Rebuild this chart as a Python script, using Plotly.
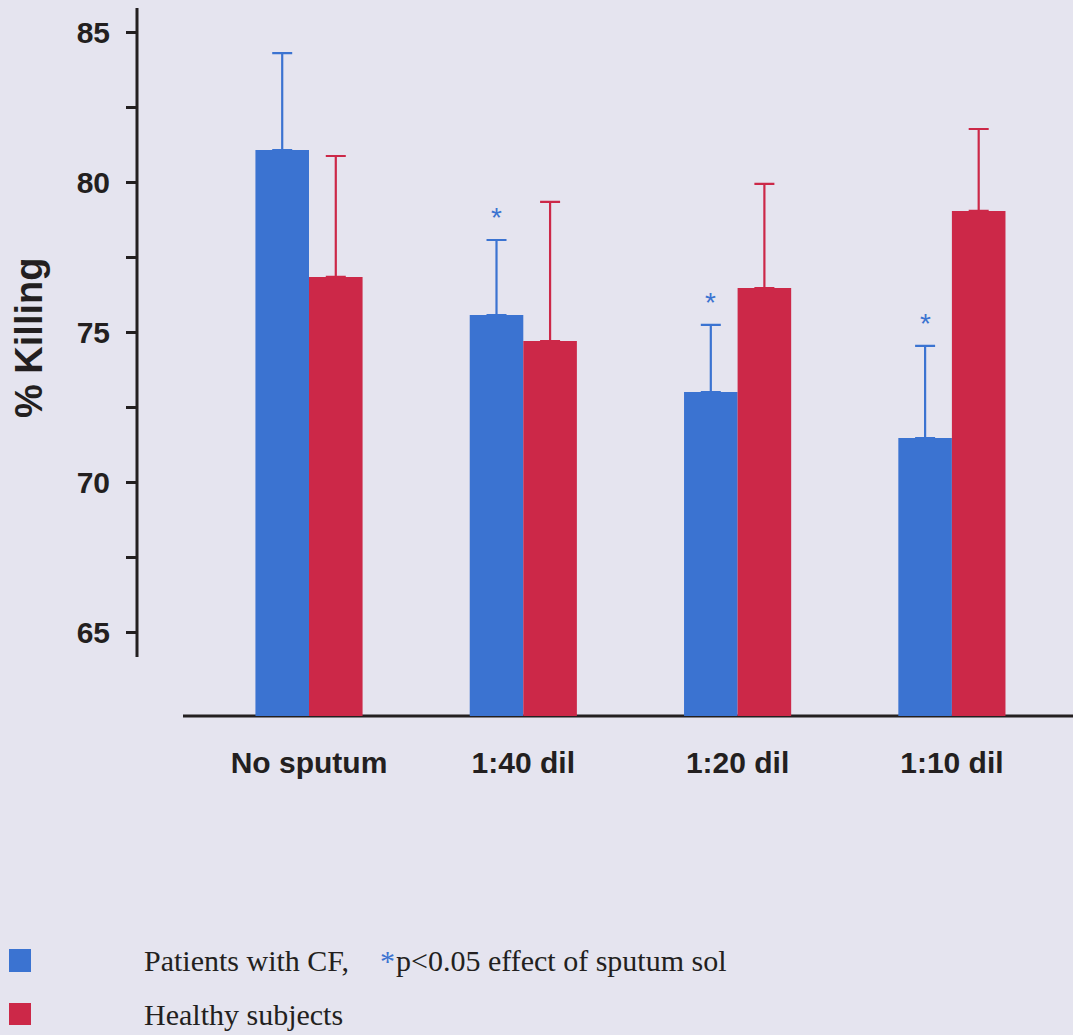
import plotly.graph_objects as go

# ---- data ----
categories = ["No sputum", "1:40 dil", "1:20 dil", "1:10 dil"]
cf_mean = [81.1, 75.6, 73.03, 71.5]
cf_err = [3.23, 2.5, 2.24, 3.07]
healthy_mean = [76.87, 74.73, 76.5, 79.07]
healthy_err = [4.03, 4.64, 3.47, 2.73]
cf_significant = [False, True, True, True]
series_names = ["Patients with CF,", "Healthy subjects"]
sig_note = "p&lt;0.05 effect of sputum sol"
y_tickvals = [65, 67.5, 70, 72.5, 75, 77.5, 80, 82.5, 85]
y_ticktext = ["65", "", "70", "", "75", "", "80", "", "85"]

# ---- styles ----
W, H = 1073, 1035
L, R, T, B = 137, 0, 8, 319
PW, PH = W - L - R, H - T - B
BG = "#e5e4ef"
BLUE = "#3b73d1"
RED = "#cc2848"
INK = "#231f20"
SANS = "Liberation Sans, Arial, sans-serif"
SERIF = "Liberation Serif, Times New Roman, serif"

def px_x(px):
    return (px - L) / PW

def px_y(py):
    return (H - B - py) / PH

xs = list(range(len(categories)))

fig = go.Figure()
fig.add_trace(go.Bar(
    x=xs, y=cf_mean, name=series_names[0], marker=dict(color=BLUE, line=dict(width=0)),
    error_y=dict(type="data", symmetric=False, array=cf_err,
                 arrayminus=[0] * len(cf_err), color=BLUE, thickness=2.2, width=10),
))
fig.add_trace(go.Bar(
    x=xs, y=healthy_mean, name=series_names[1], marker=dict(color=RED, line=dict(width=0)),
    error_y=dict(type="data", symmetric=False, array=healthy_err,
                 arrayminus=[0] * len(healthy_err), color=RED, thickness=2.2, width=10),
))

annotations = []
# significance asterisks above CF error bars
for i, sig in enumerate(cf_significant):
    if sig:
        annotations.append(dict(
            x=xs[i] - 0.125, y=cf_mean[i] + cf_err[i], xref="x", yref="y",
            text="*", showarrow=False, yanchor="bottom", yshift=5,
            font=dict(family=SANS, size=28, color=BLUE),
        ))

# y-axis title
annotations.append(dict(
    x=px_x(29), y=px_y(338), xref="paper", yref="paper", text="% Killing",
    textangle=-90, showarrow=False, xanchor="center", yanchor="middle",
    font=dict(family=SANS, size=38, color=INK, weight="bold"),
))

# legend (manual)
annotations.append(dict(
    x=px_x(142), y=px_y(961), xref="paper", yref="paper", text=series_names[0],
    showarrow=False, xanchor="left", yanchor="middle",
    font=dict(family=SERIF, size=30, color=INK),
))
annotations.append(dict(
    x=px_x(378), y=px_y(961), xref="paper", yref="paper", text="*",
    showarrow=False, xanchor="left", yanchor="middle",
    font=dict(family=SERIF, size=30, color=BLUE),
))
annotations.append(dict(
    x=px_x(394), y=px_y(961), xref="paper", yref="paper", text=sig_note,
    showarrow=False, xanchor="left", yanchor="middle",
    font=dict(family=SERIF, size=30, color=INK),
))
annotations.append(dict(
    x=px_x(142), y=px_y(1014), xref="paper", yref="paper", text=series_names[1],
    showarrow=False, xanchor="left", yanchor="middle",
    font=dict(family=SERIF, size=30, color=INK),
))

shapes = [
    # y axis line (stops above the x axis)
    dict(type="line", xref="paper", yref="paper", x0=0, x1=0, y0=px_y(657), y1=px_y(8),
         line=dict(color=INK, width=3), layer="below"),
    # x axis line
    dict(type="line", xref="paper", yref="paper", x0=px_x(183), x1=1, y0=0, y1=0,
         line=dict(color=INK, width=3), layer="below"),
    # legend swatches
    dict(type="rect", xref="paper", yref="paper", x0=px_x(9), x1=px_x(31),
         y0=px_y(972), y1=px_y(949), fillcolor=BLUE, line=dict(width=0)),
    dict(type="rect", xref="paper", yref="paper", x0=px_x(9), x1=px_x(31),
         y0=px_y(1025), y1=px_y(1003), fillcolor=RED, line=dict(width=0)),
]

x0 = -(309 - L) / 214.3
fig.update_layout(
    width=W, height=H,
    margin=dict(l=L, r=R, t=T, b=B, pad=0),
    paper_bgcolor=BG, plot_bgcolor=BG,
    barmode="group", bargap=0.5, bargroupgap=0,
    showlegend=False,
    annotations=annotations, shapes=shapes,
    xaxis=dict(
        range=[x0, x0 + PW / 214.3], tickmode="array", tickvals=xs, ticktext=categories,
        showline=False, showgrid=False, zeroline=False, ticks="",
        tickfont=dict(family=SANS, size=30, color=INK, weight="bold"),
        ticklabelstandoff=26,
    ),
    yaxis=dict(
        range=[62.233, 85.833], tickmode="array", tickvals=y_tickvals, ticktext=y_ticktext,
        showline=False, showgrid=False, zeroline=False,
        ticks="outside", ticklen=10, tickwidth=2.5, tickcolor=INK,
        tickfont=dict(family=SANS, size=30, color=INK, weight="bold"),
        ticklabelstandoff=10,
    ),
)

fig.write_html(
    "out.html",
    config={"displayModeBar": False},
    post_script="document.body.style.margin='0';document.body.style.background='%s';" % BG,
)
